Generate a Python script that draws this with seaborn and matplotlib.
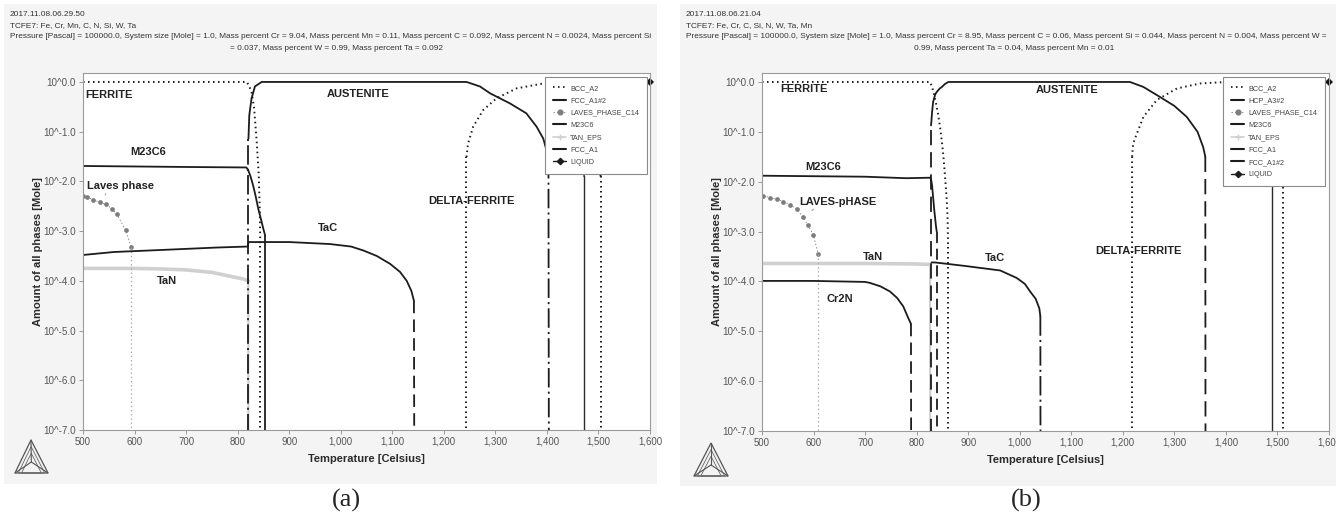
import numpy as np
import pandas as pd
import matplotlib
matplotlib.use("Agg")
import matplotlib.pyplot as plt
import seaborn as sns
from matplotlib.lines import Line2D
from matplotlib.patches import Rectangle, Polygon
from matplotlib.transforms import Bbox, TransformedBbox

# ---------------- data (log10 of mole amount; FLOOR = phase absent) ----------------
FLOOR = -9.0
TEMP_TICKS = [500, 600, 700, 800, 900, 1000, 1100, 1200, 1300, 1400, 1500, 1600]
TEMP_LABELS = ["500", "600", "700", "800", "900", "1,000", "1,100", "1,200", "1,300", "1,400", "1,500", "1,600"]
LOG_TICKS = [0, -1, -2, -3, -4, -5, -6, -7]
LOG_LABELS = ["10^0.0", "10^-1.0", "10^-2.0", "10^-3.0", "10^-4.0", "10^-5.0", "10^-6.0", "10^-7.0"]

# panel (a)
A_BCC_T = [500, 818, 823, 827, 832, 837, 841, 843, 844, 844]
A_BCC_L = [0, 0, -0.1, -0.2, -0.53, -1.2, -1.88, -2.6, -3.3, FLOOR]
A_DELTA_T = [1244, 1244, 1247, 1257, 1276, 1302, 1341, 1393, 1430, 1472, 1490, 1503, 1504, 1504]
A_DELTA_L = [FLOOR, -1.51, -1.24, -0.90, -0.57, -0.33, -0.13, -0.03, 0, 0, -0.3, -1.0, -1.9, FLOOR]
A_AUS_T = [821, 821, 822.6, 827, 833.6, 846.6, 1000, 1244, 1270, 1290, 1328, 1360, 1380, 1393, 1398, 1403, 1404]
A_AUS_L = [FLOOR, -1.14, -0.67, -0.33, -0.09, 0, 0, 0, -0.09, -0.23, -0.43, -0.63, -0.9, -1.14, -1.33, -1.55, FLOOR]
A_M23_T = [500, 600, 700, 817, 820.7, 825, 830, 835, 840, 845, 850, 853.4, 853.4]
A_M23_L = [-1.69, -1.70, -1.71, -1.72, -1.78, -1.9, -2.08, -2.3, -2.55, -2.75, -2.96, -3.09, FLOOR]
A_TAC_T = [500, 560, 650, 760, 820, 821, 900, 979, 1020, 1044, 1070, 1096, 1115, 1128, 1137, 1142, 1143]
A_TAC_L = [-3.48, -3.42, -3.38, -3.33, -3.31, -3.22, -3.22, -3.26, -3.31, -3.39, -3.5, -3.66, -3.82, -4.0, -4.2, -4.4, FLOOR]
A_LAVES_T = [500.6, 507, 520, 533, 545, 556, 565, 583, 593, 593]
A_LAVES_L = [-2.30, -2.32, -2.37, -2.42, -2.46, -2.55, -2.65, -2.98, -3.31, FLOOR]
A_TAN_T = [500, 550, 600, 650, 700, 750, 791, 810, 820.7, 821]
A_TAN_L = [-3.75, -3.75, -3.75, -3.76, -3.78, -3.83, -3.92, -3.96, -4.0, FLOOR]
A_LIQ_T = [1472, 1472, 1476, 1484, 1494, 1505, 1550, 1600]
A_LIQ_L = [FLOOR, -1.9, -1.2, -0.6, -0.2, 0, 0, 0]

# panel (b)
B_BCC_T = [500, 826, 830, 834, 838, 842, 846, 849, 852, 855, 858, 860, 861, 861]
B_BCC_L = [0, 0, -0.1, -0.26, -0.45, -0.67, -0.95, -1.2, -1.5, -1.88, -2.3, -2.7, -3.3, FLOOR]
B_DELTA_T = [1217.6, 1218, 1220, 1227, 1240, 1266, 1305, 1350, 1401, 1490, 1500, 1507, 1511, 1511]
B_DELTA_L = [FLOOR, -1.5, -1.24, -1.04, -0.70, -0.36, -0.13, -0.03, 0, 0, -0.2, -0.8, -2.1, FLOOR]
B_AUS_T = [828, 828, 830, 832, 836, 839, 845, 849, 855, 861.5, 1000, 1214, 1240, 1272, 1300, 1324, 1345, 1356, 1360, 1360.5]
B_AUS_L = [FLOOR, -0.87, -0.6, -0.4, -0.25, -0.2, -0.13, -0.1, -0.04, 0, 0, 0, -0.1, -0.30, -0.48, -0.70, -1.0, -1.31, -1.5, FLOOR]
B_M23_T = [500, 700, 780, 826, 828, 830, 834, 837.5, 839, 839]
B_M23_L = [-1.88, -1.90, -1.93, -1.92, -1.95, -2.08, -2.55, -2.89, -3.0, FLOOR]
B_CR2N_T = [500, 600, 700, 709.5, 730, 748, 762, 774, 784, 789, 789.5]
B_CR2N_L = [-3.99, -3.99, -4.01, -4.03, -4.1, -4.2, -4.33, -4.5, -4.74, -4.85, FLOOR]
B_TAC_T = [829, 836, 894, 962, 994, 1010, 1020, 1031, 1038, 1040, 1040.5]
B_TAC_L = [-3.62, -3.62, -3.69, -3.78, -3.93, -4.05, -4.2, -4.35, -4.54, -4.7, FLOOR]
B_LAVES_T = [502.6, 515.5, 528.5, 541.4, 554.3, 568.5, 578.9, 588.6, 599.5, 609.2, 609.2]
B_LAVES_L = [-2.28, -2.32, -2.35, -2.40, -2.46, -2.55, -2.71, -2.86, -3.06, -3.46, FLOOR]
B_TAN_T = [500, 600, 700, 800, 826, 826.5]
B_TAN_L = [-3.64, -3.64, -3.64, -3.65, -3.66, FLOOR]
B_LIQ_T = [1490, 1490, 1494, 1500, 1506, 1511, 1550, 1600]
B_LIQ_L = [FLOOR, -2.1, -1.2, -0.6, -0.2, 0, 0, 0]

A_LEGEND = ["BCC_A2", "FCC_A1#2", "LAVES_PHASE_C14", "M23C6", "TAN_EPS", "FCC_A1", "LIQUID"]
B_LEGEND = ["BCC_A2", "HCP_A3#2", "LAVES_PHASE_C14", "M23C6", "TAN_EPS", "FCC_A1", "FCC_A1#2", "LIQUID"]

A_HEADER = ["2017.11.08.06.29.50", "TCFE7: Fe, Cr, Mn, C, N, Si, W, Ta",
            "Pressure [Pascal] = 100000.0, System size [Mole] = 1.0, Mass percent Cr = 9.04, Mass percent Mn = 0.11, Mass percent C = 0.092, Mass percent N = 0.0024, Mass percent Si",
            "= 0.037, Mass percent W = 0.99, Mass percent Ta = 0.092"]
B_HEADER = ["2017.11.08.06.21.04", "TCFE7: Fe, Cr, C, Si, N, W, Ta, Mn",
            "Pressure [Pascal] = 100000.0, System size [Mole] = 1.0, Mass percent Cr = 8.95, Mass percent C = 0.06, Mass percent Si = 0.044, Mass percent N = 0.004, Mass percent W =",
            "0.99, Mass percent Ta = 0.04, Mass percent Mn = 0.01"]

# ---------------- style ----------------
sns.set_theme(style="white")
plt.rcParams['font.family'] = ['Liberation Sans', 'DejaVu Sans']
plt.rcParams['lines.scale_dashes'] = False

W, H = 1336, 522
fig = plt.figure(figsize=(W / 100, H / 100), dpi=100)
fig.patch.set_facecolor("white")

DARK = "#1c1c1c"
DOT = (0, (1.1, 2.5))
DASH = (0, (9, 4.5))
DASHDOT = (0, (14, 3, 1.5, 3))
LAVES_C = "#7d7d7d"
TAN_C = "#d0d0d0"


def rect(l, t, r, b):
    return [l / W, 1 - b / H, (r - l) / W, (b - t) / H]


def seg_plot(ax, T, L, **kw):
    df = pd.DataFrame({"T": T, "A": np.power(10.0, L)})
    sns.lineplot(data=df, x="T", y="A", ax=ax, sort=False, estimator=None, **kw)


def draw_phase(ax, T, L, main, drop):
    T = np.asarray(T, float)
    L = np.asarray(L, float)
    fl = L <= FLOOR
    n = len(T)
    i = 0
    while i < n:
        if fl[i]:
            i += 1
            continue
        j = i
        while j + 1 < n and not fl[j + 1]:
            j += 1
        seg_plot(ax, T[i:j + 1], L[i:j + 1], **main)
        i = j + 1
    for k in range(n - 1):
        if fl[k] != fl[k + 1]:
            seg_plot(ax, T[k:k + 2], L[k:k + 2], **drop)


def solid(lw=1.3, color=DARK):
    return dict(color=color, linewidth=lw, linestyle="-")


def styled(ls, lw=1.3, color=DARK):
    return dict(color=color, linewidth=lw, linestyle=ls)


laves_main = dict(color=LAVES_C, linewidth=0.6, linestyle=(0, (1, 1.5)), marker="o", markersize=3.4,
                  markerfacecolor=LAVES_C, markeredgecolor=LAVES_C, markeredgewidth=0)
laves_drop = dict(color="#a8a8a8", linewidth=0.9, linestyle=(0, (1, 2)))
tan_main = dict(color=TAN_C, linewidth=2.6, linestyle="-")
tan_drop = dict(color=TAN_C, linewidth=1.5, linestyle="-")
liq_main = dict(color="#2a2a2a", linewidth=1.0, linestyle="-", marker="D", markersize=3.6,
                markerfacecolor="#111111", markeredgecolor="#111111", markeredgewidth=0, markevery=[-1],
                clip_on=False)
liq_drop = dict(color="#2a2a2a", linewidth=1.0, linestyle="-")
bcc = styled(DOT, lw=1.4)


def legend_handles(names):
    hs = []
    for nm in names:
        if nm == "BCC_A2":
            h = Line2D([], [], color=DARK, lw=1.3, ls=DOT)
        elif nm == "LAVES_PHASE_C14":
            h = Line2D([], [], color=LAVES_C, lw=0.6, ls=(0, (1, 1.5)), marker="o", ms=3.4, mec=LAVES_C, mfc=LAVES_C)
        elif nm == "TAN_EPS":
            h = Line2D([], [], color=TAN_C, lw=1.2, marker="+", ms=4, mec=TAN_C)
        elif nm == "LIQUID":
            h = Line2D([], [], color=DARK, lw=1.0, marker="D", ms=3.2, mec=DARK, mfc=DARK)
        else:
            h = Line2D([], [], color=DARK, lw=1.5)
        hs.append(h)
    return hs


def style_axes(ax, legend_names, anchor):
    ax.set_yscale("log")
    ax.set_xlim(500, 1600)
    ax.set_ylim(1e-7, 10 ** 0.18)
    ax.set_yticks([10.0 ** k for k in LOG_TICKS])
    ax.set_yticklabels(LOG_LABELS)
    ax.yaxis.set_minor_locator(matplotlib.ticker.NullLocator())
    ax.set_xticks(TEMP_TICKS)
    ax.set_xticklabels(TEMP_LABELS)
    ax.tick_params(axis="both", which="major", bottom=True, left=True, length=3, width=0.7,
                   color="#9a9a9a", labelsize=6.9, labelcolor="#555555", pad=2)
    ax.tick_params(axis="y", labelsize=7.1)
    for sp in ax.spines.values():
        sp.set_color("#9a9a9a")
        sp.set_linewidth(0.8)
    ax.set_facecolor("white")
    ax.set_xlabel("Temperature [Celsius]", fontsize=8, fontweight="bold", color="#2a2a2a")
    ax.set_ylabel("Amount of all phases [Mole]", fontsize=8, fontweight="bold", color="#2a2a2a")
    ax.xaxis.label.set_va("center")
    ax.yaxis.label.set_va("center")
    ax.xaxis.set_label_coords(0.5, -0.081)
    ax.yaxis.set_label_coords(-0.080, 0.5)
    leg = ax.legend(handles=legend_handles(legend_names), labels=legend_names, loc="upper right",
                    bbox_to_anchor=anchor, bbox_transform=ax.transAxes, fontsize=5.2,
                    frameon=True, fancybox=False, edgecolor="#8a8a8a", framealpha=1.0,
                    borderpad=1.1, labelspacing=0.73, handlelength=1.9, handletextpad=0.5,
                    borderaxespad=0, numpoints=1)
    leg.get_frame().set_linewidth(0.8)
    for t in leg.get_texts():
        t.set_color("#444444")
    leg.set_zorder(10)


def label(ax, T, logv, s):
    ax.text(T, 10 ** logv, s, fontsize=8, fontweight="bold", color="#222222", ha="left", va="center")


def panel_bg(l, t, r, b):
    fig.add_artist(Rectangle((l / W, 1 - b / H), (r - l) / W, (b - t) / H, transform=fig.transFigure,
                             facecolor="#f4f4f4", edgecolor="none", zorder=-5))


def header(lines, left, right, center_x, ys):
    clip = TransformedBbox(Bbox.from_extents(left / W, 0, right / W, 1), fig.transFigure)
    for k, (txt, y) in enumerate(zip(lines, ys)):
        if k < 3:
            t = fig.text((left + 6) / W, 1 - y / H, txt, fontsize=5.95, color="#333333", ha="left", va="center")
        else:
            t = fig.text(center_x / W, 1 - y / H, txt, fontsize=5.95, color="#333333", ha="center", va="center")
        t.set_clip_box(clip)
        t.set_clip_on(True)


def logo(top, bl, br):
    def P(pts):
        return [(x / W, 1 - y / H) for x, y in pts]
    cx = (top[0] + bl[0] + br[0]) / 3
    cy = (top[1] + bl[1] + br[1]) / 3
    fig.add_artist(Polygon(P([top, bl, br]), closed=True, fill=False, edgecolor="#555555", lw=0.9,
                           transform=fig.transFigure))
    for s in (0.8, 0.6):
        mid = ((bl[0] + br[0]) / 2, bl[1])
        tri = [(mid[0] + (p[0] - mid[0]) * s, mid[1] + (p[1] - mid[1]) * s) for p in (top, bl, br)]
        fig.add_artist(Polygon(P(tri), closed=True, fill=False, edgecolor="#666666", lw=0.6,
                               transform=fig.transFigure))
    for p in (top, bl, br):
        fig.add_artist(Line2D([cx / W, p[0] / W], [1 - cy / H, 1 - p[1] / H], color="#555555", lw=0.8,
                              transform=fig.transFigure))


# ---------------- panel (a) ----------------
panel_bg(4, 4, 657, 484)
header(A_HEADER, 4, 664, 337, [15, 26, 37, 48])
axA = fig.add_axes(rect(83, 73, 650, 430))
draw_phase(axA, A_BCC_T, A_BCC_L, bcc, bcc)
draw_phase(axA, A_DELTA_T, A_DELTA_L, bcc, bcc)
draw_phase(axA, A_TAN_T, A_TAN_L, tan_main, tan_drop)
draw_phase(axA, A_LAVES_T, A_LAVES_L, laves_main, laves_drop)
draw_phase(axA, A_AUS_T, A_AUS_L, solid(), styled(DASHDOT))
draw_phase(axA, A_M23_T, A_M23_L, solid(), solid())
draw_phase(axA, A_TAC_T, A_TAC_L, solid(), styled(DASH))
draw_phase(axA, A_LIQ_T, A_LIQ_L, liq_main, liq_drop)
style_axes(axA, A_LEGEND, (0.9947, 0.9888))
label(axA, 504, -0.26, "FERRITE")
label(axA, 973, -0.24, "AUSTENITE")
label(axA, 591, -1.41, "M23C6")
label(axA, 508, -2.09, "Laves phase")
label(axA, 644, -4.01, "TaN")
label(axA, 956, -2.94, "TaC")
label(axA, 1169, -2.39, "DELTA-FERRITE")
axA.annotate("", xy=(547, 10 ** -2.2), xytext=(540, 10 ** -2.32),
             arrowprops=dict(arrowstyle="-", color="#9a9a9a", lw=0.7))
logo((31, 440), (15, 473), (48, 473))
fig.text(346 / W, 1 - 500 / H, "(a)", fontsize=19, family="Liberation Serif", ha="center", va="center")

# ---------------- panel (b) ----------------
panel_bg(680, 4, 1336, 486)
header(B_HEADER, 680, 1336, 1014, [15, 26, 37, 48])
axB = fig.add_axes(rect(762, 73, 1329, 431))
draw_phase(axB, B_BCC_T, B_BCC_L, bcc, bcc)
draw_phase(axB, B_DELTA_T, B_DELTA_L, bcc, bcc)
draw_phase(axB, B_TAN_T, B_TAN_L, tan_main, tan_drop)
draw_phase(axB, B_LAVES_T, B_LAVES_L, laves_main, laves_drop)
draw_phase(axB, B_CR2N_T, B_CR2N_L, solid(), styled(DASH))
draw_phase(axB, B_M23_T, B_M23_L, solid(), styled((0, (8, 4))))
draw_phase(axB, B_TAC_T, B_TAC_L, solid(), styled(DASHDOT))
draw_phase(axB, B_AUS_T, B_AUS_L, solid(), styled((0, (11, 5))))
draw_phase(axB, B_LIQ_T, B_LIQ_L, liq_main, liq_drop)
style_axes(axB, B_LEGEND, (0.993, 0.989))
label(axB, 535, -0.14, "FERRITE")
label(axB, 1031, -0.16, "AUSTENITE")
label(axB, 583, -1.71, "M23C6")
label(axB, 572, -2.41, "LAVES-pHASE")
label(axB, 695, -3.52, "TaN")
label(axB, 933, -3.53, "TaC")
label(axB, 625, -4.35, "Cr2N")
label(axB, 1146, -3.39, "DELTA-FERRITE")
axB.annotate("", xy=(600, 10 ** -2.55), xytext=(593, 10 ** -2.62),
             arrowprops=dict(arrowstyle="-", color="#9a9a9a", lw=0.7))
logo((711, 443), (694, 476), (728, 476))
fig.text(1026 / W, 1 - 500 / H, "(b)", fontsize=19, family="Liberation Serif", ha="center", va="center")

fig.savefig("out.png", dpi=100)
